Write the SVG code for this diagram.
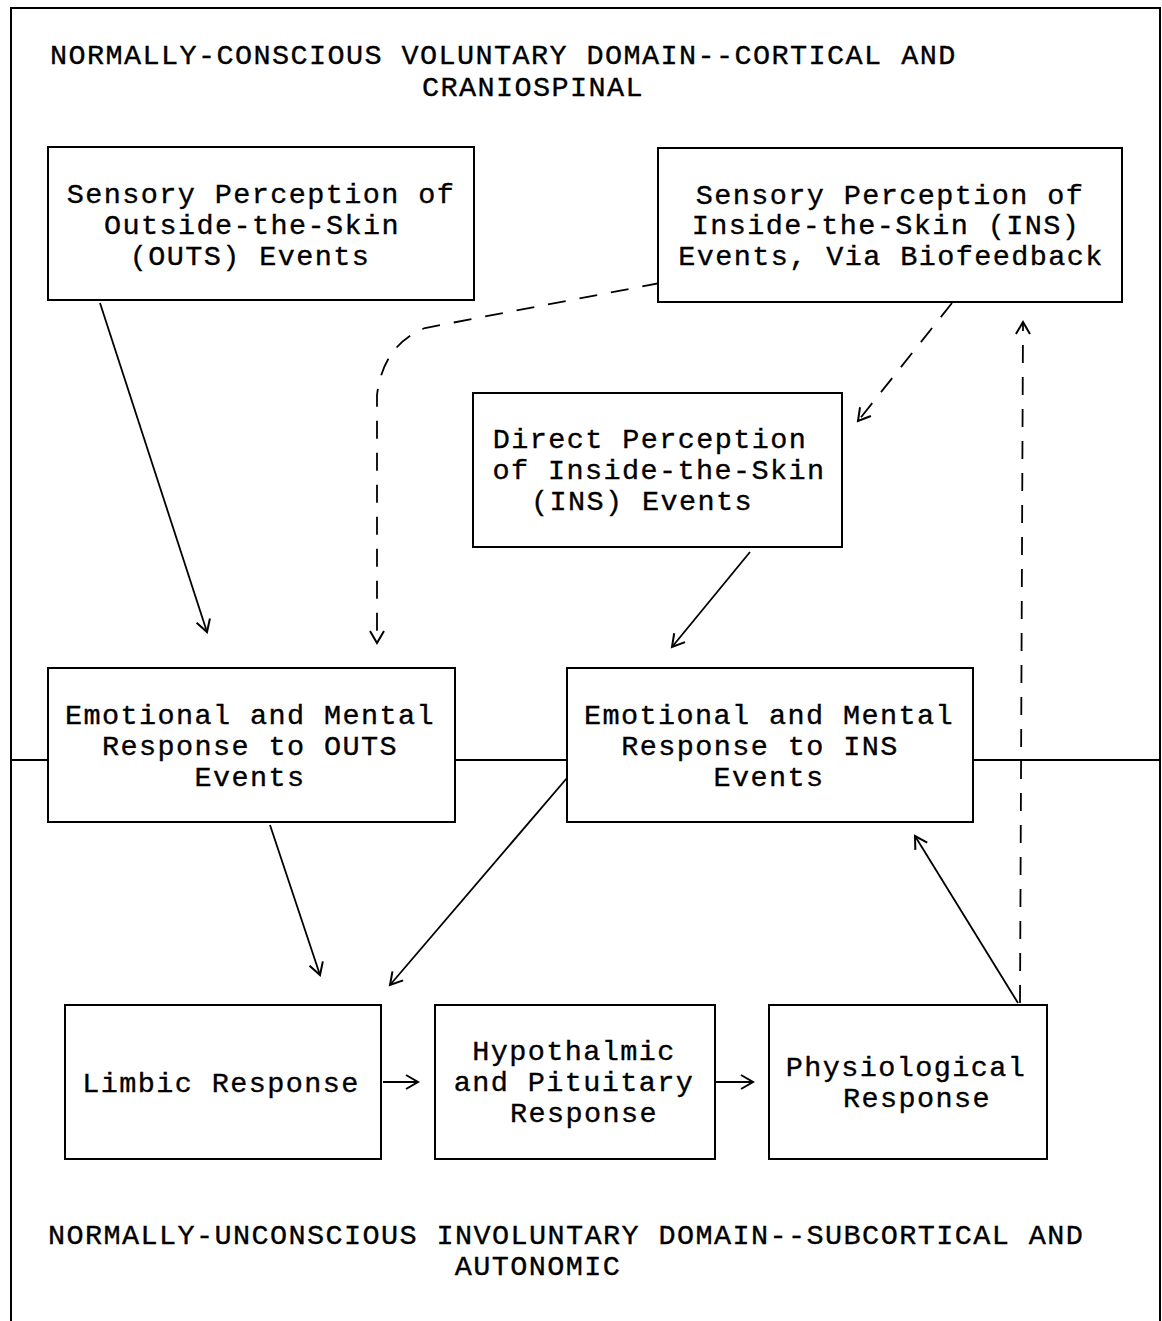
<svg xmlns="http://www.w3.org/2000/svg" width="1162" height="1321" viewBox="0 0 1162 1321">
<defs>
<style>
.box{fill:#fff;stroke:#000;stroke-width:2}
.t{font-family:"Liberation Mono","Courier New",monospace;font-size:28.5px;letter-spacing:1.4px;fill:#000;stroke:#000;stroke-width:0.35;text-anchor:middle}
.h{font-family:"Liberation Mono","Courier New",monospace;font-size:28.5px;letter-spacing:1.4px;fill:#000;stroke:#000;stroke-width:0.35}
.c{fill:none;stroke:#000;stroke-width:1.8}
.d{fill:none;stroke:#000;stroke-width:1.8;stroke-dasharray:18 14}
.frame{fill:none;stroke:#000;stroke-width:2}
</style>
<marker id="ar" markerUnits="userSpaceOnUse" markerWidth="20" markerHeight="20" viewBox="0 0 20 20" refX="16" refY="10" orient="auto">
<path d="M4,3 L16,10 L4,17" fill="none" stroke="#000" stroke-width="2"/>
</marker>
</defs>
<rect width="1162" height="1321" fill="#fff"/>
<g id="frame">
<path class="frame" d="M11,1321 V8 H1160 V1321"/>
<path class="frame" d="M11,760 H48 M455,760 H567 M973,760 H1160"/>
<text class="h" x="50" y="64">NORMALLY-CONSCIOUS VOLUNTARY DOMAIN--CORTICAL AND</text>
<text class="t" x="533" y="96">CRANIOSPINAL</text>
<text class="h" x="48" y="1244">NORMALLY-UNCONSCIOUS INVOLUNTARY DOMAIN--SUBCORTICAL AND</text>
<text class="t" x="538" y="1275">AUTONOMIC</text>
</g>
<g id="connectors">
<path class="c" d="M100,303 L207,632" marker-end="url(#ar)"/>
<path class="d" d="M660,283 L425,328 Q383,345 377,395 L377,643" marker-end="url(#ar)"/>
<path class="d" d="M952,303 L858,421" marker-end="url(#ar)"/>
<path class="c" d="M750,552 L672,647" marker-end="url(#ar)"/>
<path class="c" d="M270,825 L320,975" marker-end="url(#ar)"/>
<path class="c" d="M567,778 L390,985" marker-end="url(#ar)"/>
<path class="c" d="M383,1082 L418,1082" marker-end="url(#ar)"/>
<path class="c" d="M715,1082 L753,1082" marker-end="url(#ar)"/>
<path class="c" d="M1018,1003 L915,836" marker-end="url(#ar)"/>
<path class="d" d="M1020,1003 L1023,322" marker-end="url(#ar)"/>
</g>
<g id="n1"><rect class="box" x="48" y="147" width="426" height="153"/>
<text class="t" x="261" y="203">Sensory Perception of</text>
<text class="t" x="252" y="234">Outside-the-Skin</text>
<text class="t" x="250" y="265">(OUTS) Events</text></g>
<g id="n2"><rect class="box" x="658" y="148" width="464" height="154"/>
<text class="t" x="890" y="204">Sensory Perception of</text>
<text class="t" x="886" y="234">Inside-the-Skin (INS)</text>
<text class="t" x="891" y="265">Events, Via Biofeedback</text></g>
<g id="n3"><rect class="box" x="473" y="393" width="369" height="154"/>
<text class="t" x="650" y="448">Direct Perception</text>
<text class="t" x="659" y="479">of Inside-the-Skin</text>
<text class="t" x="642" y="510">(INS) Events</text></g>
<g id="n4"><rect class="box" x="48" y="668" width="407" height="154"/>
<text class="t" x="250" y="724">Emotional and Mental</text>
<text class="t" x="250" y="755">Response to OUTS</text>
<text class="t" x="250" y="786">Events</text></g>
<g id="n5"><rect class="box" x="567" y="668" width="406" height="154"/>
<text class="t" x="769" y="724">Emotional and Mental</text>
<text class="t" x="760" y="755">Response to INS</text>
<text class="t" x="769" y="786">Events</text></g>
<g id="n6"><rect class="box" x="65" y="1005" width="316" height="154"/>
<text class="t" x="221" y="1092">Limbic Response</text></g>
<g id="n7"><rect class="box" x="435" y="1005" width="280" height="154"/>
<text class="t" x="574" y="1060">Hypothalmic</text>
<text class="t" x="574" y="1091">and Pituitary</text>
<text class="t" x="584" y="1122">Response</text></g>
<g id="n8"><rect class="box" x="769" y="1005" width="278" height="154"/>
<text class="t" x="906" y="1076">Physiological</text>
<text class="t" x="917" y="1107">Response</text></g>
</svg>
